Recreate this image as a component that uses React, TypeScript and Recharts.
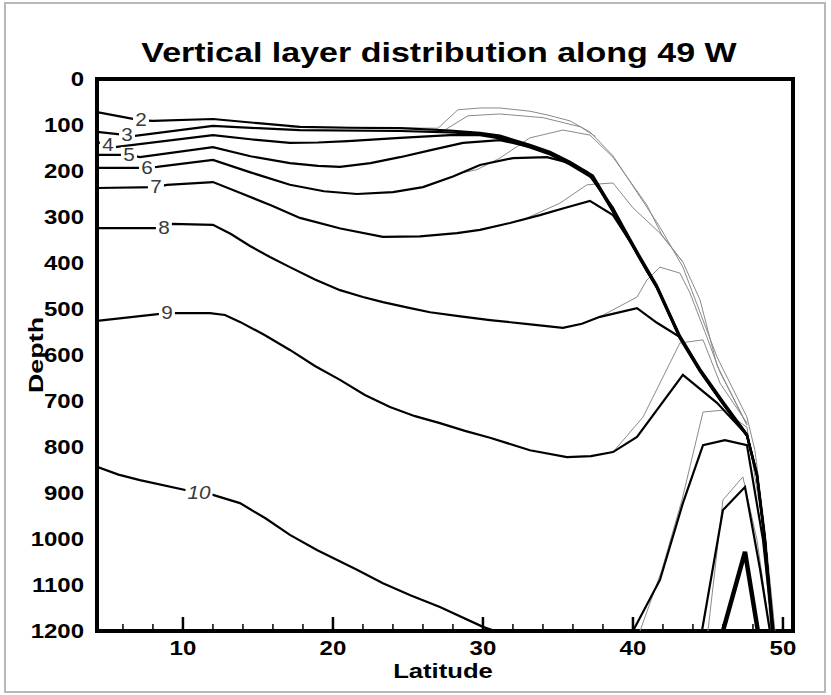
import { ComposedChart, Line, XAxis, YAxis, ReferenceArea } from 'recharts';

type Pt = [number, number];

// [latitude, depth] pairs
const contour2: Pt[] = [[4.27, 72], [7.2, 90], [8, 91], [12, 87], [15, 96], [17.8, 104], [21, 106], [24.47, 107], [27.8, 112], [29.8, 117], [31.13, 123], [33.13, 143], [34.47, 158], [35.8, 180], [37.33, 210], [38.93, 297], [40.47, 386], [41.6, 449], [43.13, 558], [44.47, 630], [46, 701], [47.6, 772], [48.27, 858], [48.8, 998], [49.27, 1200]];
const contour3: Pt[] = [[4.27, 115], [6.27, 122], [6.67, 124], [12, 102], [15, 107], [17.8, 111], [24.47, 113], [27.8, 116], [29.8, 120], [31.13, 126], [33.13, 146], [34.47, 161], [35.8, 183], [37.33, 213], [38.93, 300], [40.47, 389], [41.6, 452], [43.13, 561], [44.47, 633], [46, 704], [47.6, 774], [48.27, 861], [48.8, 1002], [49.33, 1200]];
const contour4: Pt[] = [[4.27, 137], [5.0, 143], [5.47, 148], [12, 122], [14.5, 131], [17.13, 139], [19, 138], [21, 135], [24.47, 128], [27.8, 122], [29.8, 122], [31.13, 129], [33.13, 149], [34.47, 164], [35.8, 186], [37.33, 216], [38.93, 303], [40.47, 392], [41.6, 455], [43.13, 564], [44.47, 636], [46, 707], [47.6, 776], [48.27, 864], [48.8, 1006], [49.38, 1200]];
const contour5: Pt[] = [[4.27, 165], [6.4, 165], [7.13, 170], [12, 148], [14.5, 168], [17.13, 183], [19, 189], [20.47, 191], [22.5, 183], [24.47, 170], [26.6, 154], [28.67, 139], [31.13, 133], [33.13, 147], [34.47, 162], [35.8, 184], [37.33, 214], [38.93, 301], [40.47, 390], [41.6, 453], [43.13, 562], [44.47, 634], [46, 705], [47.6, 775], [48.27, 862], [48.8, 1003], [49.33, 1200]];
const contour6: Pt[] = [[4.27, 193], [7.6, 193], [8.27, 191], [12, 176], [14.5, 203], [17.13, 230], [19.4, 244], [21.6, 250], [24, 246], [26, 235], [28, 212], [29.8, 187], [32, 172], [34.27, 170], [35.7, 182], [36.93, 202], [38.67, 280], [39.8, 350], [40.47, 390], [41.6, 453], [43.13, 562], [44.47, 634], [46, 705], [47.6, 775]];
const contour7: Pt[] = [[4.27, 237], [8.2, 235], [8.93, 230], [12, 224], [14, 250], [15.9, 275], [17.8, 302], [20.5, 325], [23.33, 343], [25.8, 342], [28.27, 335], [29.8, 328], [31.8, 313], [33.8, 296], [35.5, 280], [37.13, 265], [38.67, 296], [40, 363], [40.93, 418], [41.6, 452], [43.13, 561], [44.47, 633], [46, 704], [47.6, 774]];
const contour8: Pt[] = [[4.27, 324], [8.73, 324], [9.27, 315], [12, 317], [13.2, 337], [14.47, 363], [15.8, 387], [17.13, 409], [18.8, 436], [20.47, 459], [22, 474], [23.33, 485], [25, 497], [26.47, 507], [28.5, 516], [30.47, 524], [33, 533], [35.33, 541], [36.6, 532], [37.8, 517], [40.27, 498], [41.6, 530], [43.13, 561], [44.47, 633], [46, 704], [47.6, 774]];
const contour9: Pt[] = [[4.27, 526], [8.93, 509], [11.8, 509], [12.8, 513], [13.8, 528], [15.47, 557], [17.13, 589], [18.8, 624], [20.47, 654], [22.13, 687], [23.8, 713], [25.47, 733], [27.13, 748], [28.8, 765], [30.47, 780], [33.13, 807], [35.6, 822], [37.2, 820], [38.67, 811], [40.27, 778], [43.33, 643], [45.6, 704], [47.6, 774], [48.27, 861], [48.8, 1002], [49.3, 1200]];
const contour10: Pt[] = [[4.27, 843], [5.7, 860], [7.13, 872], [11.07, 900], [12, 904], [13.8, 922], [15.5, 955], [17.13, 991], [18.93, 1024], [21.6, 1067], [23.33, 1096], [25.2, 1123], [27.13, 1148], [30, 1191], [30.8, 1200]];
const contour10North: Pt[] = [[40, 1200], [41.8, 1089], [43.33, 922], [44.67, 796], [46.13, 785], [47.6, 796], [48.67, 1002], [49.33, 1200]];
const contour11: Pt[] = [[44.6, 1200], [46, 937], [47.47, 887], [48.47, 1065], [49.13, 1200]];
const contour12: Pt[] = [[46, 1200], [47.47, 1028], [48.33, 1200]];

const thin1: Pt[] = [[17.13, 104], [27, 107], [28.33, 67], [29.8, 63], [31.13, 63], [33.13, 70], [34.27, 78], [35.8, 91], [37.13, 115], [38.67, 167], [41.8, 322], [43.33, 409], [45.6, 604], [47.6, 735], [48.13, 807], [48.8, 980], [49.47, 1200]];
const thin2: Pt[] = [[27.5, 110], [29, 80], [31.13, 76], [34, 84], [36.5, 104], [37.5, 125]];
const thin3: Pt[] = [[28.5, 205], [29.6, 197], [31.13, 172], [33.13, 128], [35.33, 111], [37.13, 122], [38.67, 170], [40.93, 274], [41.93, 339], [43.33, 398]];
const thin4: Pt[] = [[32.47, 309], [35.13, 270], [36.93, 230], [38.67, 226], [40, 280], [41.8, 335], [43.33, 398], [44.47, 480], [45.6, 622], [47.6, 752]];
const thin5: Pt[] = [[37.8, 517], [40.27, 474], [40.93, 437], [41.8, 409], [43.13, 422], [43.8, 465], [44.93, 561], [45.8, 637], [47.6, 752]];
const thin6: Pt[] = [[38.67, 811], [40.67, 735], [43.13, 574], [44.67, 567], [45.8, 661], [47.6, 748]];
const thin7: Pt[] = [[40.47, 1200], [41.93, 1067], [43.27, 915], [44.67, 724], [46, 720], [47.6, 757], [48.6, 960], [49.2, 1200]];
const thin8: Pt[] = [[45, 1200], [46, 915], [47.33, 865], [48.27, 1002], [49.13, 1200]];

const latTicks = [6, 8, 10, 12, 14, 16, 18, 20, 22, 24, 26, 28, 30, 32, 34, 36, 38, 40, 42, 44, 46, 48, 50];
const depthTicks = [0, 100, 200, 300, 400, 500, 600, 700, 800, 900, 1000, 1100, 1200];

const contours = [
  { id: 'c2', tag: '2', at: 1, pts: contour2 },
  { id: 'c3', tag: '3', at: 1, pts: contour3 },
  { id: 'c4', tag: '4', at: 1, pts: contour4 },
  { id: 'c5', tag: '5', at: 1, pts: contour5 },
  { id: 'c6', tag: '6', at: 1, pts: contour6 },
  { id: 'c7', tag: '7', at: 1, pts: contour7 },
  { id: 'c8', tag: '8', at: 1, pts: contour8 },
  { id: 'c9', tag: '9', at: 1, pts: contour9 },
  { id: 'c10', tag: '10', at: 3, pts: contour10 },
  { id: 'c10n', tag: '', at: -1, pts: contour10North },
  { id: 'c11', tag: '', at: -1, pts: contour11 },
];
const thinLines = [thin1, thin2, thin3, thin4, thin5, thin6, thin7, thin8];

const FONT = '"Liberation Sans", Arial, Helvetica, sans-serif';
const LAT_MIN = 4.27;
const LAT_MAX = 50.67;

const toRows = (pts: Pt[], at = -1, tag = '') =>
  pts.map(([lat, depth], i) => ({ lat, depth, tag: i === at ? tag : undefined }));

const tagDot = (props: any) => {
  const { cx, cy, payload, index } = props;
  if (!payload?.tag) return <g key={index} />;
  const italic = payload.tag === '10';
  const w = payload.tag.length * 11 + 5;
  return (
    <g key={index}>
      <rect x={cx - w / 2} y={cy - 8} width={w} height={16} fill="#fff" />
      <text
        transform={`translate(${cx},${cy + 6}) scale(1.15,1)`}
        textAnchor="middle"
        fontFamily={FONT}
        fontSize={18}
        fontStyle={italic ? 'italic' : 'normal'}
        fill="#3a3a3a"
      >
        {payload.tag}
      </text>
    </g>
  );
};

const LatTick = (props: any) => {
  const { x, y, payload } = props;
  const v = payload.value as number;
  const major = v % 10 === 0;
  return (
    <g>
      <line x1={x} x2={x} y1={y} y2={y - (major ? 14 : 7)} stroke="#000" strokeWidth={major ? 2.5 : 1.5} />
      {major && (
        <text
          transform={`translate(${x},${y + 24}) scale(1.2,1)`}
          textAnchor="middle"
          fontFamily={FONT}
          fontWeight="bold"
          fontSize={20}
          fill="#000"
        >
          {v}
        </text>
      )}
    </g>
  );
};

const DepthTick = (props: any) => {
  const { x, y, payload } = props;
  return (
    <text
      transform={`translate(${x},${y + 7}) scale(1.2,1)`}
      textAnchor="end"
      fontFamily={FONT}
      fontWeight="bold"
      fontSize={20}
      fill="#000"
    >
      {payload.value}
    </text>
  );
};

export default function App() {
  return (
    <div style={{ position: 'absolute', left: 0, top: 0, width: 831, height: 695, background: '#fff' }}>
      <div
        style={{
          position: 'absolute',
          left: 4,
          top: 2,
          width: 822,
          height: 691,
          border: '2px solid #b8b8b8',
          boxSizing: 'border-box',
        }}
      />
      <div style={{ position: 'absolute', left: 0, top: 0 }}>
        <ComposedChart width={831} height={695} margin={{ top: 79, right: 38, bottom: 0, left: 0 }}>
          <XAxis
            dataKey="lat"
            type="number"
            domain={[LAT_MIN, LAT_MAX]}
            allowDataOverflow
            ticks={latTicks}
            interval={0}
            height={64}
            axisLine={false}
            tickLine={false}
            tickSize={0}
            tickMargin={0}
            tick={<LatTick />}
          />
          <YAxis
            type="number"
            domain={[0, 1200]}
            reversed
            allowDataOverflow
            ticks={depthTicks}
            interval={0}
            width={97}
            axisLine={false}
            tickLine={false}
            tickSize={0}
            tickMargin={13}
            tick={<DepthTick />}
          />
          {thinLines.map((pts, i) => (
            <Line
              key={`thin${i}`}
              data={toRows(pts)}
              dataKey="depth"
              type="linear"
              stroke="#8a8a8a"
              strokeWidth={1}
              dot={false}
              activeDot={false}
              isAnimationActive={false}
            />
          ))}
          {contours.map((c) => (
            <Line
              key={c.id}
              data={toRows(c.pts, c.at, c.tag)}
              dataKey="depth"
              type="linear"
              stroke="#000"
              strokeWidth={2.2}
              dot={tagDot}
              activeDot={false}
              isAnimationActive={false}
            />
          ))}
          <Line
            data={toRows(contour12)}
            dataKey="depth"
            type="linear"
            stroke="#000"
            strokeWidth={4.5}
            dot={false}
            activeDot={false}
            isAnimationActive={false}
          />
          <ReferenceArea
            x1={LAT_MIN}
            x2={LAT_MAX}
            y1={0}
            y2={1200}
            fill="none"
            fillOpacity={0}
            stroke="#000"
            strokeWidth={4}
            ifOverflow="visible"
          />
        </ComposedChart>
      </div>
      <svg width={831} height={695} style={{ position: 'absolute', left: 0, top: 0, pointerEvents: 'none' }}>
        <text
          transform="translate(439,62) scale(1.26,1)"
          textAnchor="middle"
          fontFamily={FONT}
          fontWeight="bold"
          fontSize={27}
          fill="#000"
        >
          Vertical layer distribution along 49 W
        </text>
        <text
          transform="translate(443,678) scale(1.22,1)"
          textAnchor="middle"
          fontFamily={FONT}
          fontWeight="bold"
          fontSize={21}
          fill="#000"
        >
          Latitude
        </text>
        <text
          transform="translate(43,355) rotate(-90) scale(1.28,1)"
          textAnchor="middle"
          fontFamily={FONT}
          fontWeight="bold"
          fontSize={21}
          fill="#000"
        >
          Depth
        </text>
      </svg>
    </div>
  );
}
